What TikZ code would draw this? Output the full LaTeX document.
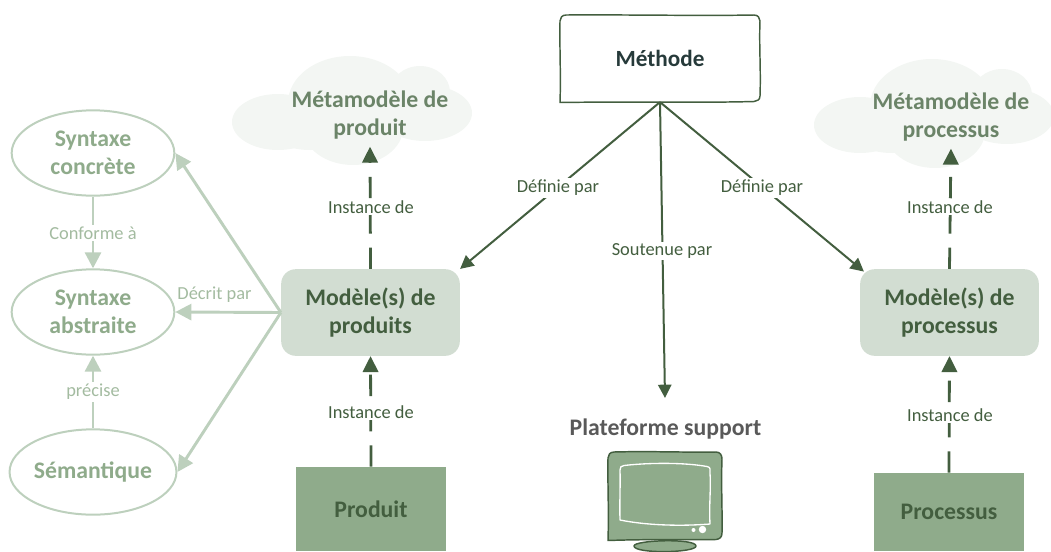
\documentclass[tikz,border=0pt]{standalone}
\usepackage{fontspec}
\setmainfont{Carlito}
\usetikzlibrary{arrows.meta,shapes.geometric}
\definecolor{dk}{HTML}{435E3F}
\definecolor{md}{HTML}{8FAB8B}
\definecolor{lt}{HTML}{BDD0BD}
\definecolor{pale}{HTML}{D2DDD2}
\definecolor{cl}{HTML}{F3F6F3}
\definecolor{mt}{HTML}{6B8468}
\definecolor{lb}{HTML}{A3BBA0}
\definecolor{gr}{HTML}{595959}
\definecolor{me}{HTML}{263A3A}
\tikzset{
  x=0.75pt,y=-0.75pt,
  bigfont/.style={font=\fontsize{17.8}{21}\selectfont\bfseries},
  ell/.style={ellipse,draw=lt,line width=1.5pt,fill=white,minimum width=122pt,minimum height=64pt,inner sep=0pt,align=center,text=md,bigfont},
  modelbox/.style={rectangle,rounded corners=11pt,fill=pale,minimum width=134pt,minimum height=65pt,inner sep=0pt,align=center,text=dk,bigfont},
  solidbox/.style={rectangle,fill=md,inner sep=0pt,text=dk,bigfont},
  cloudtxt/.style={inner sep=0pt,align=center,text=mt,bigfont},
  lab/.style={fill=white,inner sep=1.5pt,text=dk,font=\fontsize{13.8}{16}\selectfont},
  lablt/.style={fill=white,inner sep=1.5pt,text=lb,font=\fontsize{13.8}{16}\selectfont},
  dkline/.style={draw=dk,line width=1.5pt,-{Triangle[length=10pt,width=10pt]}},
  dashline/.style={draw=dk,line width=2.1pt,dash pattern=on 16pt off 10.5pt,-{Triangle[length=12pt,width=11.5pt]}},
  ltline/.style={draw=lt,line width=2.2pt,-{Triangle[length=12pt,width=12pt]}},
  hand/.style={draw=dk,line width=1.1pt,line join=round},
  cloudpart/.style={fill=cl,draw=none},
}
\newcommand{\mycloudshape}{%
  \fill[cloudpart] (278,122) ellipse [x radius=46,y radius=28];
  \fill[cloudpart] (350,103) ellipse [x radius=62,y radius=47];
  \fill[cloudpart] (420,92) ellipse [x radius=30,y radius=26];
  \fill[cloudpart] (425,113) ellipse [x radius=47,y radius=28];
  \fill[cloudpart] (353,128) ellipse [x radius=50,y radius=37];
  \fill[cloudpart] (310,130) ellipse [x radius=40,y radius=20];
}
\begin{document}
\begin{tikzpicture}
\useasboundingbox (0,0) rectangle (1051,551);
% clouds
\begin{scope}\mycloudshape\end{scope}
\begin{scope}[shift={(582,3)}]\mycloudshape\end{scope}
\node[cloudtxt] (cp) at (370,115.5) {Métamodèle de\\produit};
\node[cloudtxt] (cq) at (951,117.5) {Métamodèle de\\processus};
% ellipses
\node[ell] (sc) at (93,153) {Syntaxe\\concrète};
\node[ell] (sa) at (93,312) {Syntaxe\\abstraite};
\node[ell] (se) at (93,472) {Sémantique};
% boxes
\node[modelbox] (mp) at (370.5,312.5) {Modèle(s) de\\produits};
\node[modelbox] (mq) at (949.5,312.5) {Modèle(s) de\\processus};
\node[solidbox,minimum width=112.5pt,minimum height=63pt] (pr) at (371,509) {Produit};
\node[solidbox,minimum width=112.5pt,minimum height=58.5pt] (pq) at (949,512) {Processus};
% method
\node[inner sep=0pt,minimum width=150pt,minimum height=65pt,text=me,font=\fontsize{17.4}{20}\selectfont\bfseries] (me) at (660,58.5) {Méthode};
\draw[hand] (566,15) .. controls (620,14.5) and (700,16) .. (754,15) .. controls (758,15) and (760,18) .. (760,21)
  .. controls (759,45) and (761,70) .. (760,96) .. controls (760,100) and (757,101) .. (754,101.5)
  .. controls (700,103) and (620,101.5) .. (560,102.5) .. controls (561,75) and (559.5,50) .. (560,21)
  .. controls (560,18) and (562,15) .. (566,15) -- cycle;
% platform
\node[inner sep=0pt,text=gr,bigfont] (pl) at (665.5,429) {Plateforme support};
\coordinate (pltop) at (665,398);
\draw[hand,fill=md] (634,546) .. controls (634,540) and (696,538) .. (696,546) .. controls (696,553) and (634,554) .. (634,546) -- cycle;
\draw[hand,fill=md] (614,452) .. controls (650,451) and (680,452.5) .. (716,452) .. controls (720,452) and (722,455) .. (722,459)
  .. controls (721,485) and (722.5,510) .. (722,533) .. controls (722,537) and (720,539) .. (716,539.5)
  .. controls (680,540) and (650,539) .. (608,540.5) .. controls (609,510) and (607.5,485) .. (608,458)
  .. controls (608,455) and (610,452) .. (614,452) -- cycle;
\draw[draw=white,line width=1pt,line join=round] (624,465.5) .. controls (650,462.5) and (685,462.5) .. (707,466.5)
  .. controls (711,467) and (710,470) .. (710,473) .. controls (711,490) and (709,505) .. (710,524)
  .. controls (685,526) and (650,526) .. (620,520) .. controls (619.5,500) and (620.5,485) .. (620,470)
  .. controls (620,467) and (621,466) .. (624,465.5) -- cycle;
\fill[white] (702.5,529.5) circle [radius=3.7];
\fill[white] (693.5,530) circle [radius=2];
% connectors
\draw[dkline] (me.south) -- (mp.north east);
\draw[dkline] (me.south) -- ([xshift=3pt,yshift=-2pt]mq.north west);
\draw[dkline] (me.south) -- (pltop);
\draw[dashline] (mp.north) -- ([yshift=-5pt]cp.south);
\draw[dashline] (pr.north) -- (mp.south);
\draw[dashline] (mq.north) -- ([yshift=-5pt]cq.south);
\draw[dashline] (pq.north) -- (mq.south);
\draw[ltline] (mp.west) -- (sc.east);
\draw[ltline] (mp.west) -- (sa.east);
\draw[ltline] (mp.west) -- (se.east);
\draw[ltline] (sc.south) -- (sa.north);
\draw[ltline] (se.north) -- (sa.south);
% labels
\node[lab] (l1) at (371,207) {Instance de};
\node[lab] (l2) at (371,412) {Instance de};
\node[lab] (l3) at (950,207) {Instance de};
\node[lab] (l4) at (950,415) {Instance de};
\node[lab] (l5) at (558,188) {Définie par};
\node[lab] (l6) at (762,188) {Définie par};
\node[lab] (l7) at (662,251) {Soutenue par};
\node[lablt] (l8) at (93,233) {Conforme à};
\node[lablt] (l9) at (93,392) {précise};
\node[lablt,fill=none] (l10) at (214.5,295) {Décrit par};
\end{tikzpicture}
\end{document}
